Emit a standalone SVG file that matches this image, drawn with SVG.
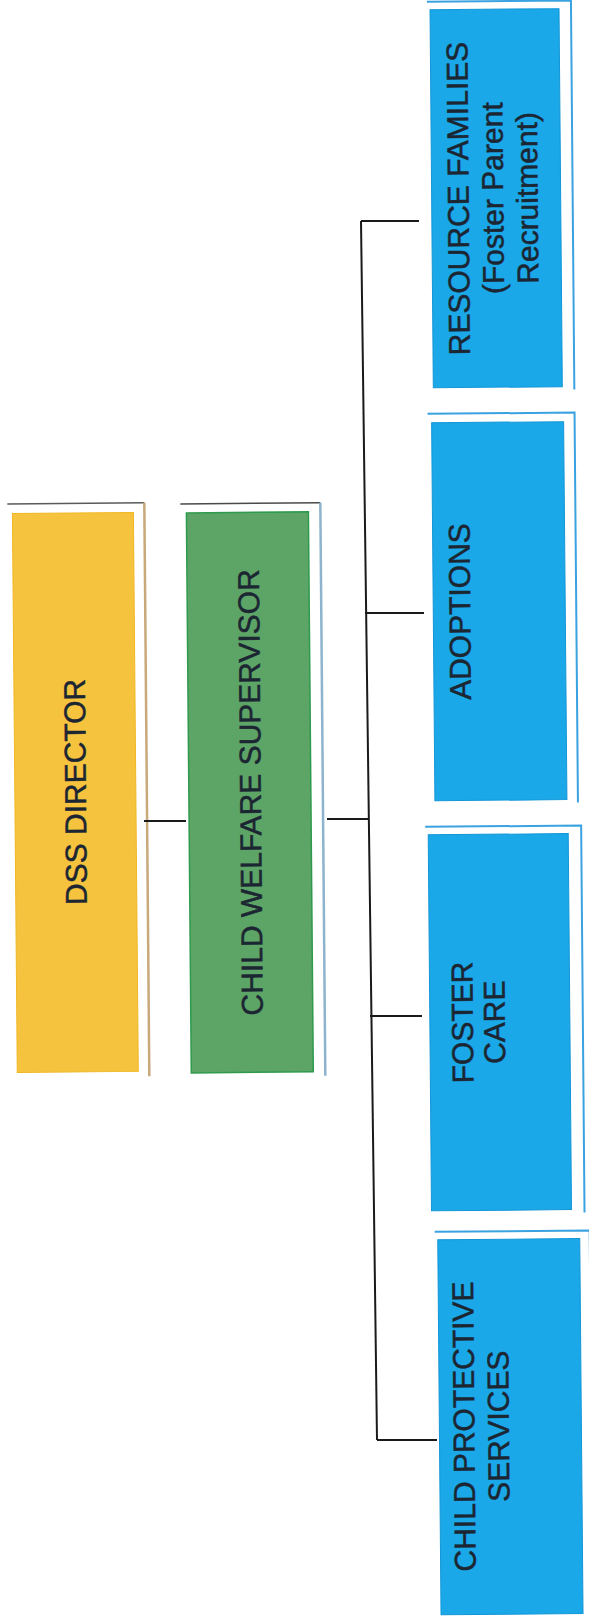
<svg xmlns="http://www.w3.org/2000/svg" width="589" height="1621" viewBox="0 0 589 1621">
<style>
.txt{font-family:"Liberation Sans",Arial,sans-serif;font-size:30px;fill:#1c2633;stroke:#1c2633;stroke-width:0.5;text-anchor:middle}
.blue{fill:#1AA8E8;stroke:#1496d6;stroke-width:1}
.bframe{fill:none;stroke:#3aa2e0;stroke-width:2}
.conn{fill:none;stroke:#1a1a1a;stroke-width:2}
</style>
<rect width="589" height="1621" fill="#ffffff"/>
<g transform="rotate(-0.5 295 810)">
<g id="dss-director">
<line x1="10" y1="501.5" x2="147" y2="501.5" stroke="#5a5a5a" stroke-width="1.5"/>
<line x1="147" y1="501.5" x2="147" y2="1075" stroke="#c9a87a" stroke-width="2.5"/>
<rect x="15" y="511" width="121" height="559" fill="#F6C33F" stroke="#F0B722" stroke-width="1"/>
<text class="txt" transform="translate(86,790) rotate(-90)">DSS DIRECTOR</text>
</g>
<g id="child-welfare-supervisor">
<line x1="183" y1="503" x2="323" y2="503" stroke="#4a4a4a" stroke-width="1.5"/>
<line x1="323" y1="503" x2="323" y2="1076" stroke="#8db4cc" stroke-width="2.5"/>
<rect x="189" y="512" width="122" height="560" fill="#5DA567" stroke="#2f9a4c" stroke-width="1.5"/>
<text class="txt" transform="translate(261,792) rotate(-90)">CHILD WELFARE SUPERVISOR</text>
</g>
<g id="resource-families">
<polyline class="bframe" points="434,3 578,3 578,392"/>
<rect class="blue" x="437" y="11" width="129" height="378"/>
<text class="txt" transform="translate(474,200) rotate(-90)"><tspan x="0" y="0">RESOURCE FAMILIES</tspan><tspan x="0" dy="34.5">(Foster Parent</tspan><tspan x="0" dy="34.5">Recruitment)</tspan></text>
</g>
<g id="adoptions">
<polyline class="bframe" points="431,415 578,415 578,805"/>
<rect class="blue" x="435" y="424" width="132" height="378"/>
<text class="txt" transform="translate(472,613) rotate(-90)">ADOPTIONS</text>
</g>
<g id="foster-care">
<polyline class="bframe" points="425,828 581,828 581,1215"/>
<rect class="blue" x="428" y="836" width="140" height="376"/>
<text class="txt" transform="translate(471,1024) rotate(-90)"><tspan x="0" y="0">FOSTER</tspan><tspan x="0" dy="32">CARE</tspan></text>
</g>
<g id="child-protective-services">
<polyline class="bframe" points="431,1233 586,1233 586,1621"/>
<rect class="blue" x="434" y="1241" width="142" height="375"/>
<text class="txt" transform="translate(469,1428) rotate(-90)"><tspan x="0" y="0">CHILD PROTECTIVE</tspan><tspan x="0" dy="34.5">SERVICES</tspan></text>
</g>
</g>
<g id="connectors">
<line class="conn" x1="144" y1="821" x2="186" y2="821"/>
<line class="conn" x1="327" y1="819" x2="368" y2="819"/>
<line class="conn" x1="361" y1="221" x2="377" y2="1440"/>
<line class="conn" x1="361" y1="221" x2="419" y2="221"/>
<line class="conn" x1="365" y1="613" x2="424" y2="613"/>
<line class="conn" x1="370" y1="1016" x2="422" y2="1016"/>
<line class="conn" x1="377" y1="1440" x2="437" y2="1440"/>
</g>
</svg>
